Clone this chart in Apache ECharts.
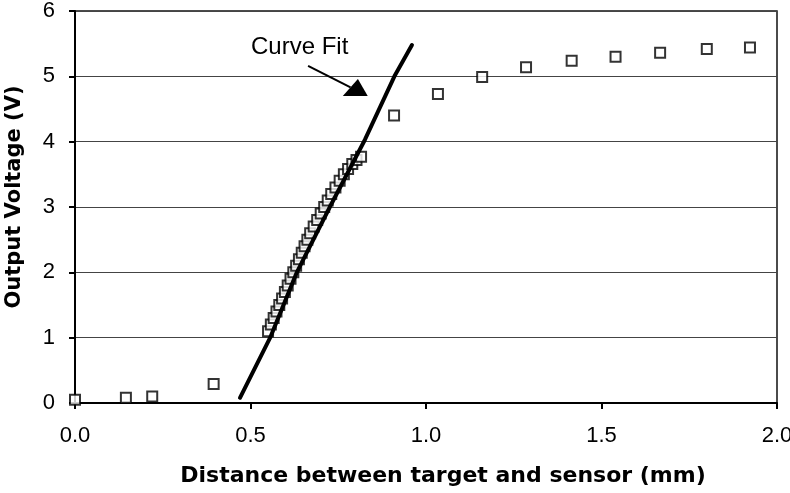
<!DOCTYPE html>
<html>
<head>
<meta charset="utf-8">
<script src="https://cdn.jsdelivr.net/npm/echarts@6/dist/echarts.min.js"></script>
<style>html,body{margin:0;padding:0;background:#fff}#c{width:790px;height:493px}</style>
</head>
<body>
<div id="c"></div>
<script>
// Measured points (distance mm, voltage V)
const measX = [0.00, 0.145, 0.22, 0.395,
  0.550,0.558,0.566,0.574,0.582,0.590,0.598,0.606,0.614,0.622,0.630,0.638,0.646,0.654,0.662,0.670,0.680,0.690,0.700,0.710,0.720,0.730,0.742,0.754,0.766,0.778,0.790,0.802,0.815,
  0.909, 1.034, 1.160, 1.285, 1.415, 1.540, 1.667, 1.800, 1.923];
const measY = [0.05, 0.08, 0.10, 0.29,
  1.10,1.20,1.30,1.40,1.50,1.60,1.70,1.80,1.90,2.00,2.10,2.20,2.30,2.40,2.50,2.60,2.70,2.80,2.90,3.00,3.10,3.20,3.30,3.40,3.50,3.58,3.66,3.72,3.77,
  4.40, 4.73, 4.99, 5.14, 5.24, 5.30, 5.36, 5.42, 5.44];
// Curve fit line
const fitX = [0.470, 0.556, 0.632, 0.726, 0.826, 0.910, 0.960];
const fitY = [0.08, 1.00, 2.00, 3.00, 4.03, 5.00, 5.48];
const xTicks = ['0.0','0.5','1.0','1.5','2.0'];
const yTicks = ['0','1','2','3','4','5','6'];
const annotText = 'Curve Fit';
const xTitle = 'Distance between target and sensor (mm)';
const yTitle = 'Output Voltage (V)';

const chart = echarts.init(document.getElementById('c'), null, {renderer:'canvas'});
chart.setOption({
  animation:false,
  backgroundColor:'#fff',
  grid:{left:75,right:13,top:11,bottom:90,containLabel:false,outerBoundsMode:'none',
    show:true,borderColor:'#111',borderWidth:1.5,backgroundColor:'transparent'},
  xAxis:{type:'value',min:0,max:2,interval:0.5,
    name:xTitle,nameLocation:'middle',nameGap:62,
    nameTextStyle:{fontFamily:'DejaVu Sans',fontWeight:'bold',fontSize:22,color:'#000',padding:[0,0,0,34]},
    axisLine:{onZero:false,lineStyle:{color:'#000',width:2}},
    axisTick:{show:true,length:6,inside:false,lineStyle:{color:'#000',width:2}},
    axisLabel:{margin:22,fontFamily:'Liberation Sans',fontSize:22,color:'#000',
      formatter:(v)=>xTicks[Math.round(v/0.5)]},
    splitLine:{show:false}},
  yAxis:{type:'value',min:0,max:6,interval:1,
    name:yTitle,nameLocation:'middle',nameGap:50,nameRotate:90,
    nameTextStyle:{fontFamily:'DejaVu Sans',fontWeight:'bold',fontSize:21,color:'#000',padding:[0,0,0,20]},
    axisLine:{lineStyle:{color:'#000',width:2}},
    axisTick:{show:true,length:6,inside:false,lineStyle:{color:'#000',width:2}},
    axisLabel:{margin:20,fontFamily:'Liberation Sans',fontSize:22,color:'#000',
      formatter:(v)=>yTicks[Math.round(v)]},
    splitLine:{show:true,lineStyle:{color:'#444',width:1.2}}},
  series:[
    {type:'line',data:fitX.map((x,i)=>[x,fitY[i]]),showSymbol:false,symbol:'none',smooth:false,
      lineStyle:{color:'#000',width:4,cap:'round',join:'round'},z:3},
    {type:'scatter',data:measX.map((x,i)=>[x,measY[i]]),symbol:'rect',symbolSize:10,
      itemStyle:{color:'#fff',borderColor:'#000',borderWidth:2},z:2}
  ]
});
// Annotation (data coordinates converted to pixels)
const P = (x,y)=>chart.convertToPixel({gridIndex:0},[x,y]);
const t = P(0.64,5.45);
const a0 = P(0.664,5.16), a1 = P(0.785,4.83);
const h1 = P(0.763,4.70), h2 = P(0.834,4.70), h3 = P(0.806,4.96);
chart.setOption({graphic:[
  {type:'text',x:t[0],y:t[1],style:{text:annotText,fontFamily:'Liberation Sans',fontSize:24,fill:'#000',textAlign:'center',textVerticalAlign:'middle'},z:10},
  {type:'line',shape:{x1:a0[0],y1:a0[1],x2:a1[0],y2:a1[1]},style:{stroke:'#000',lineWidth:2},z:10},
  {type:'polygon',shape:{points:[h1,h2,h3]},style:{fill:'#000'},z:10}
]});
</script>
</body>
</html>
